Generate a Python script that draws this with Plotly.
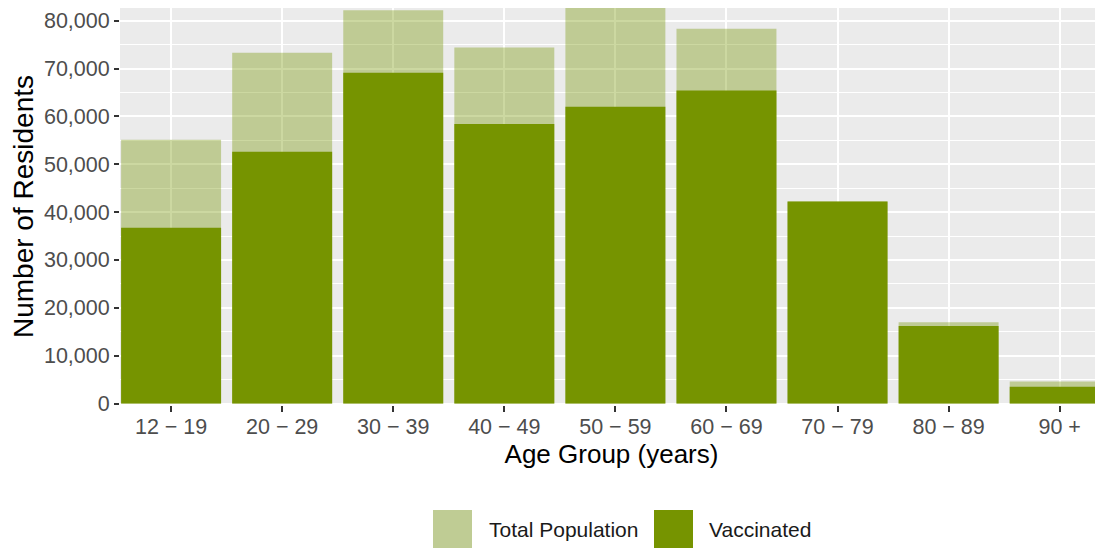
import plotly.graph_objects as go

age_groups = ["12 − 19", "20 − 29", "30 − 39", "40 − 49", "50 − 59",
              "60 − 69", "70 − 79", "80 − 89", "90 +"]
total_population = [55100, 73300, 82200, 74400, 83000, 78300, 42200, 17000, 4600]
vaccinated = [36750, 52600, 69100, 58400, 62000, 65400, 42200, 16200, 3500]

DARK = "#769400"
LIGHT_RGBA = "rgba(118,148,0,0.37)"
LIGHT_KEY = "#bfcc94"
FONT = "Liberation Sans, Arial, sans-serif"

# the page body has an 8px margin, so the figure is sized / offset for that
OFF = 8
W, H = 1095, 540
L, R, T, B = 112, 0, 0, 143

fig = go.Figure()

# total population behind, semi transparent so the grid shows through
fig.add_trace(go.Bar(
    x=age_groups, y=total_population, name="Total Population",
    marker=dict(color=LIGHT_RGBA, line=dict(width=0)),
    width=0.9, showlegend=False
))
fig.add_trace(go.Bar(
    x=age_groups, y=vaccinated, name="Vaccinated",
    marker=dict(color=DARK, line=dict(width=0)),
    width=0.9, showlegend=False
))

fig.update_layout(
    width=W, height=H,
    margin=dict(l=L, r=R, t=T, b=B),
    barmode="overlay",
    paper_bgcolor="white",
    plot_bgcolor="#ebebeb",
    font=dict(family=FONT, size=21, color="#4d4d4d"),
    showlegend=False,
)

fig.update_xaxes(
    range=[-0.46, 8.39],
    showgrid=True, gridcolor="white", gridwidth=2,
    ticks="outside", ticklen=6, tickwidth=2, tickcolor="#333333",
    ticklabelstandoff=-4,
    tickfont=dict(size=21.5, color="#4d4d4d"),
    title=dict(text="Age Group (years)", font=dict(size=26, color="black"), standoff=6),
    zeroline=False, showline=False,
)
fig.update_yaxes(
    range=[-313, 82650],
    tickvals=[0, 10000, 20000, 30000, 40000, 50000, 60000, 70000, 80000],
    tickformat=",",
    showgrid=True, gridcolor="white", gridwidth=2,
    minor=dict(tickvals=[5000, 15000, 25000, 35000, 45000, 55000, 65000, 75000],
               showgrid=True, gridcolor="white", gridwidth=1),
    ticks="outside", ticklen=5, tickwidth=2, tickcolor="#333333",
    tickfont=dict(size=21.5, color="#4d4d4d"),
    title=dict(text="Number of Residents", font=dict(size=28, color="black"), standoff=11),
    zeroline=False, showline=False,
)

# legend drawn by hand to get the big ggplot-style keys (page pixel positions)
def px_x(p):
    return (p - OFF - L) / (W - L - R)

def px_y(p):
    return (H - B - (p - OFF)) / (H - T - B)

legend_items = [("Total Population", LIGHT_KEY, 433, 487),
                ("Vaccinated", DARK, 654, 707)]
for label, col, kx, tx in legend_items:
    fig.add_shape(type="rect", xref="paper", yref="paper",
                  x0=px_x(kx), x1=px_x(kx + 39), y0=px_y(510), y1=px_y(549),
                  fillcolor=col, line=dict(width=0))
    fig.add_annotation(x=px_x(tx), y=px_y(529), xref="paper", yref="paper",
                       text=label, showarrow=False, xanchor="left", yanchor="middle",
                       font=dict(size=21, color="#1a1a1a", family=FONT))

fig.write_html("out.html")
